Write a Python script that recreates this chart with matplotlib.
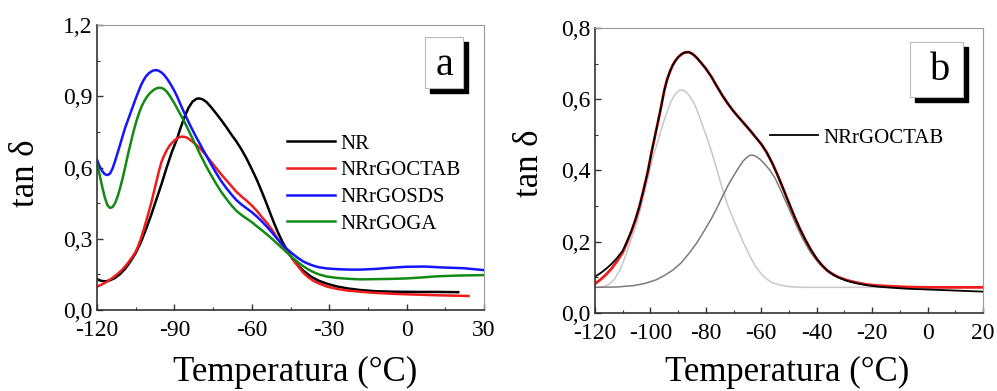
import matplotlib

matplotlib.use("Agg")
import matplotlib.pyplot as plt
from matplotlib.patches import Rectangle
from matplotlib.ticker import FuncFormatter, MultipleLocator

plt.rcParams["font.family"] = ["Liberation Serif", "DejaVu Serif"]
plt.rcParams["lines.solid_joinstyle"] = "round"

# panel a: tan delta curves
nr_t = [-120, -119, -118, -117, -116, -115, -113, -111, -109, -107, -105, -103, -101, -99,
        -97, -95, -93, -91, -89, -87.5, -86, -84.5, -83, -81.5, -80.5, -79, -77.5, -76, -74,
        -72, -70, -68, -66, -64, -62, -60, -58, -56, -54, -52, -50, -48, -46, -44, -42, -40,
        -37, -34, -31, -27, -23, -18, -12, -5, 5, 12, 20]
nr_v = [0.130, 0.125, 0.122, 0.121, 0.122, 0.125, 0.135, 0.152, 0.175, 0.205, 0.24, 0.285,
        0.34, 0.40, 0.465, 0.53, 0.60, 0.665, 0.72, 0.77, 0.815, 0.852, 0.877, 0.889, 0.891,
        0.887, 0.875, 0.857, 0.83, 0.802, 0.772, 0.74, 0.71, 0.676, 0.637, 0.593, 0.547, 0.495,
        0.44, 0.383, 0.33, 0.284, 0.245, 0.212, 0.186, 0.165, 0.14, 0.123, 0.111, 0.099,
        0.091, 0.084, 0.079, 0.077, 0.076, 0.076, 0.075]

ctab_t = [-120, -118, -116, -114, -112, -110, -108, -106, -105, -104, -103, -102, -101, -100,
          -99, -98, -97, -96, -95, -94, -93, -92, -91, -90, -89, -88, -87, -86, -85, -84, -83,
          -82, -80, -78, -76, -74, -72, -70, -68, -66, -64, -62, -60, -58, -56, -54, -52, -50,
          -48, -46, -44, -42, -40, -38, -36, -34, -31, -27, -23, -18, -12, -5, 3, 12, 20, 24]
ctab_v = [0.098, 0.108, 0.12, 0.135, 0.152, 0.172, 0.198, 0.228, 0.246, 0.27, 0.30, 0.335,
          0.372, 0.41, 0.45, 0.495, 0.54, 0.585, 0.624, 0.65, 0.672, 0.69, 0.703, 0.714, 0.722,
          0.728, 0.73, 0.729, 0.725, 0.717, 0.709, 0.70, 0.68, 0.655, 0.627, 0.60, 0.573,
          0.548, 0.523, 0.498, 0.478, 0.46, 0.44, 0.417, 0.39, 0.365, 0.335, 0.30, 0.27, 0.243,
          0.212, 0.183, 0.156, 0.137, 0.122, 0.112, 0.099, 0.089, 0.082, 0.077, 0.072, 0.068,
          0.065, 0.062, 0.06, 0.059]

sds_t = [-120, -119, -118, -117, -116, -115, -114, -113, -112, -111, -110, -109, -108, -107,
         -106, -105, -104, -103, -102, -101, -100, -99, -98, -97, -96, -95, -94, -93, -92, -91,
         -90, -89, -88, -87, -86, -84, -82, -80, -78, -76, -74, -72, -70, -68, -66, -64, -62,
         -60, -58, -56, -54, -52, -50, -48, -46, -44, -42, -40, -38, -36, -34, -31, -27, -22,
         -18, -12, -6, 0, 7, 14, 22, 26, 30]
sds_v = [0.632, 0.605, 0.585, 0.572, 0.568, 0.574, 0.595, 0.627, 0.662, 0.698, 0.735, 0.77,
         0.80, 0.83, 0.86, 0.89, 0.918, 0.945, 0.967, 0.984, 0.996, 1.004, 1.009, 1.01, 1.007,
         1.0, 0.99, 0.976, 0.96, 0.942, 0.922, 0.90, 0.875, 0.85, 0.826, 0.78, 0.737, 0.697,
         0.657, 0.618, 0.58, 0.545, 0.515, 0.488, 0.463, 0.444, 0.428, 0.412, 0.393, 0.372,
         0.349, 0.324, 0.298, 0.274, 0.253, 0.235, 0.218, 0.204, 0.194, 0.186, 0.18, 0.175,
         0.172, 0.17, 0.17, 0.173, 0.178, 0.182, 0.183, 0.179, 0.176, 0.172, 0.168]

ga_t = [-120, -119, -118, -117, -116, -115, -114, -113, -112, -111, -110, -109, -108, -107,
        -106, -105, -104, -103, -102, -101, -100, -99, -98, -97, -96, -95, -94, -93, -92, -91,
        -90, -89, -88, -86, -84, -82, -80, -78, -76, -74, -72, -70, -68, -66, -64, -62, -60,
        -58, -56, -54, -52, -50, -48, -46, -44, -42, -40, -38, -36, -34, -31, -27, -22, -18,
        -12, -6, 0, 6, 12, 20, 30]
ga_v = [0.618, 0.57, 0.52, 0.475, 0.442, 0.43, 0.433, 0.45, 0.478, 0.515, 0.558, 0.605, 0.655,
        0.70, 0.745, 0.785, 0.82, 0.85, 0.873, 0.892, 0.907, 0.918, 0.927, 0.933, 0.936, 0.935,
        0.93, 0.92, 0.905, 0.888, 0.87, 0.85, 0.83, 0.79, 0.745, 0.70, 0.655, 0.612, 0.572,
        0.535, 0.50, 0.47, 0.442, 0.418, 0.40, 0.385, 0.37, 0.352, 0.335, 0.317, 0.298, 0.278,
        0.258, 0.238, 0.218, 0.20, 0.184, 0.17, 0.159, 0.15, 0.141, 0.135, 0.131, 0.129, 0.13,
        0.131, 0.133, 0.137, 0.142, 0.145, 0.147]

# panel b: NRrGOCTAB data, fit and the two fitted peaks
dat_t = [-120, -118, -116, -114, -112, -110, -108.5, -107, -105.5, -104, -102.5, -101, -99.5,
         -98, -96.5, -95, -94, -93, -92, -91, -90, -89, -88, -87, -86, -85, -84, -83, -82, -80,
         -78, -76, -74, -72, -70, -68, -66, -64, -62, -60, -58, -56, -54, -52, -50, -48, -46,
         -44, -42, -40, -38, -36, -34, -32, -29, -26, -22, -18, -13, -7, 0, 10, 20]
dat_v = [0.102, 0.112, 0.124, 0.138, 0.155, 0.175, 0.20, 0.228, 0.26, 0.298, 0.345, 0.395,
         0.455, 0.51, 0.565, 0.625, 0.655, 0.677, 0.695, 0.708, 0.718, 0.725, 0.73, 0.732,
         0.732, 0.728, 0.722, 0.714, 0.705, 0.686, 0.663, 0.636, 0.61, 0.587, 0.566, 0.548,
         0.53, 0.512, 0.493, 0.474, 0.45, 0.42, 0.385, 0.347, 0.308, 0.27, 0.235, 0.204, 0.176,
         0.152, 0.133, 0.118, 0.107, 0.099, 0.09, 0.084, 0.078, 0.074, 0.071, 0.068, 0.066,
         0.063, 0.06]
fit_v = [0.082, 0.094, 0.108, 0.125, 0.146, 0.17, 0.197, 0.226, 0.259, 0.298, 0.345, 0.395,
         0.455, 0.51, 0.565, 0.625, 0.655, 0.677, 0.695, 0.708, 0.718, 0.725, 0.73, 0.732,
         0.732, 0.728, 0.722, 0.714, 0.705, 0.686, 0.663, 0.636, 0.61, 0.587, 0.566, 0.548,
         0.53, 0.512, 0.493, 0.474, 0.45, 0.42, 0.385, 0.347, 0.308, 0.27, 0.235, 0.204, 0.176,
         0.152, 0.133, 0.118, 0.108, 0.10, 0.092, 0.086, 0.08, 0.077, 0.075, 0.073, 0.072,
         0.072, 0.072]

pk1_t = [-120, -117, -115, -113, -111, -109, -107, -105, -103, -101, -99, -97, -95.5, -94,
         -92.5, -91, -89.5, -88.5, -87, -85.5, -84, -82.5, -81, -79.7, -78, -76.5, -75, -73.5,
         -72, -70, -68, -66, -64, -62, -60, -58, -56, -53, -50, -45, 20]
pk1_v = [0.072, 0.074, 0.08, 0.095, 0.12, 0.16, 0.205, 0.25, 0.31, 0.375, 0.44, 0.49, 0.53,
         0.565, 0.595, 0.615, 0.625, 0.626, 0.62, 0.605, 0.585, 0.555, 0.522, 0.494, 0.455,
         0.415, 0.375, 0.335, 0.30, 0.262, 0.225, 0.19, 0.158, 0.13, 0.11, 0.095, 0.085,
         0.078, 0.074, 0.072, 0.072]

pk2_t = [-120, -112, -106, -102, -98, -95, -92, -89, -86, -83, -80.5, -78, -76, -74, -72, -70,
         -68, -66.5, -65, -64, -63, -62, -60.5, -59, -57, -55, -53, -51, -49, -47, -45, -43,
         -41, -39, -37, -35, -32, -29, -26, -22, -18, -12, 0, 20]
pk2_v = [0.072, 0.073, 0.077, 0.083, 0.093, 0.105, 0.12, 0.14, 0.168, 0.20, 0.232, 0.265,
         0.295, 0.327, 0.358, 0.385, 0.41, 0.427, 0.438, 0.443, 0.443, 0.44, 0.432, 0.42,
         0.402, 0.378, 0.345, 0.31, 0.275, 0.24, 0.208, 0.18, 0.157, 0.138, 0.123, 0.112,
         0.099, 0.09, 0.084, 0.079, 0.076, 0.073, 0.072, 0.072]

W, H = 997, 391


def comma(v, _pos):
    return f"{v:.1f}".replace(".", ",")


def style_axes(ax, xmaj, xmin, ymaj, ymin):
    ax.xaxis.set_major_locator(MultipleLocator(xmaj))
    ax.xaxis.set_minor_locator(MultipleLocator(xmin))
    ax.yaxis.set_major_locator(MultipleLocator(ymaj))
    ax.yaxis.set_minor_locator(MultipleLocator(ymin))
    ax.xaxis.set_major_formatter(FuncFormatter(lambda v, p: f"{int(round(v))}"))
    ax.yaxis.set_major_formatter(FuncFormatter(comma))
    ax.tick_params(which="both", direction="in", labelsize=17, color="#333333")
    ax.tick_params(axis="x", pad=7)
    ax.tick_params(axis="y", pad=3)
    ax.tick_params(which="major", length=4, width=1)
    ax.tick_params(which="minor", length=2.5, width=0.8)
    for side in ("left", "bottom"):
        ax.spines[side].set_color("#333333")
        ax.spines[side].set_linewidth(1.2)
    for side in ("top", "right"):
        ax.spines[side].set_color("#9a9a9a")
        ax.spines[side].set_linewidth(0.8)


def tag(ax, x0, y0, x1, y1, letter, tx, ty):
    dx = 5 / (ax.get_position().width * W)
    dy = 5 / (ax.get_position().height * H)
    ax.add_patch(Rectangle((x0 + dx, y0 - dy), x1 - x0, y1 - y0, transform=ax.transAxes,
                           facecolor="black", edgecolor="black", zorder=5, clip_on=False))
    ax.add_patch(Rectangle((x0, y0), x1 - x0, y1 - y0, transform=ax.transAxes,
                           facecolor="white", edgecolor="#bbbbbb", lw=0.8, zorder=6,
                           clip_on=False))
    ax.text(tx, ty, letter, transform=ax.transAxes, ha="center", va="baseline",
            fontsize=29, zorder=7)


fig = plt.figure(figsize=(W / 100, H / 100), dpi=100)
ax_a = fig.add_axes([97 / W, 1 - 310 / H, 387 / W, 285 / H])
ax_b = fig.add_axes([595 / W, 1 - 313 / H, 388 / W, 285 / H])

ax_a.plot(nr_t, nr_v, color="black", lw=1.8, label="NR")
ax_a.plot(ctab_t, ctab_v, color="#ee1c1c", lw=1.8, label="NRrGOCTAB")
ax_a.plot(sds_t, sds_v, color="#1414ff", lw=1.8, label="NRrGOSDS")
ax_a.plot(ga_t, ga_v, color="#138a13", lw=1.8, label="NRrGOGA")
ax_a.set_xlim(-120, 30)
ax_a.set_ylim(0, 1.2)
style_axes(ax_a, 30, 15, 0.3, 0.15)
ax_a.legend(loc="upper left", bbox_to_anchor=((287 - 97) / 387, (310 - 134) / 285),
            frameon=False, fontsize=15, handlelength=2.3, handletextpad=0.25,
            labelspacing=0.34, borderpad=0, borderaxespad=0)
tag(ax_a, 0.848, 0.779, 0.946, 0.958, "a", 0.899, 0.825)
ax_a.text(0.512, -0.218, "Temperatura (°C)", transform=ax_a.transAxes, ha="center",
          va="center", fontsize=25)
ax_a.text(-0.186, 0.481, "tan δ", transform=ax_a.transAxes, ha="center", va="center",
          rotation=90, fontsize=25)

ax_b.plot(pk1_t, pk1_v, color="#c8c8c8", lw=1.1)
ax_b.plot(pk2_t, pk2_v, color="#7c7c7c", lw=1.1)
ax_b.plot(dat_t, fit_v, color="#ee1c1c", lw=2.0)
ax_b.plot(dat_t, dat_v, color="black", lw=1.3, label="NRrGOCTAB")
ax_b.set_xlim(-120, 20)
ax_b.set_ylim(0, 0.8)
style_axes(ax_b, 20, 10, 0.2, 0.1)
ax_b.legend(loc="upper left", bbox_to_anchor=((770 - 595) / 388, (313 - 128) / 285),
            frameon=False, fontsize=15, handlelength=2.3, handletextpad=0.25,
            borderpad=0, borderaxespad=0)
tag(ax_b, 0.812, 0.759, 0.948, 0.952, "b", 0.889, 0.818)
ax_b.text(0.495, -0.207, "Temperatura (°C)", transform=ax_b.transAxes, ha="center",
          va="center", fontsize=25)
ax_b.text(-0.168, 0.526, "tan δ", transform=ax_b.transAxes, ha="center", va="center",
          rotation=90, fontsize=25)

fig.savefig("out.png", dpi=100)
